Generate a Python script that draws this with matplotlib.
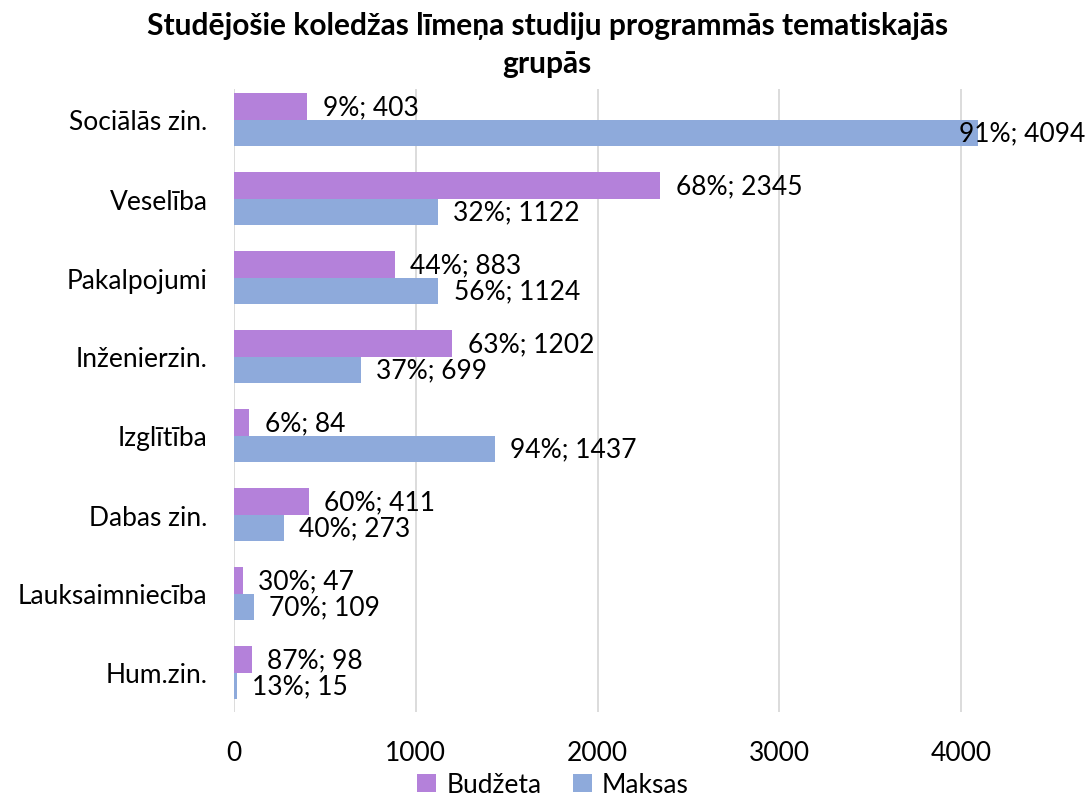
import matplotlib
matplotlib.use("Agg")
import matplotlib.pyplot as plt
import numpy as np

categories = ["Sociālās zin.", "Veselība", "Pakalpojumi", "Inženierzin.",
              "Izglītība", "Dabas zin.", "Lauksaimniecība", "Hum.zin."]
budzeta = [403, 2345, 883, 1202, 84, 411, 47, 98]
maksas = [4094, 1122, 1124, 699, 1437, 273, 109, 15]
budzeta_pct = [9, 68, 44, 63, 6, 60, 30, 87]
maksas_pct = [91, 32, 56, 37, 94, 40, 70, 13]
series_names = ["Budžeta", "Maksas"]
xticks = [0, 1000, 2000, 3000, 4000]
title = "Studējošie koledžas līmeņa studiju programmās tematiskajās\ngrupās"

c_b = "#B481DA"
c_m = "#8EAADB"

plt.rcParams['font.family'] = ['Lato', 'DejaVu Sans']

fig = plt.figure(figsize=(10.91, 8.04), dpi=100)
ax = fig.add_axes([234/1091, 1-713/804, (1052-234)/1091, (713-90)/804])

y = np.arange(len(categories))
h = 0.33
bb = ax.barh(y - h/2, budzeta, height=h, color=c_b, label=series_names[0])
bm = ax.barh(y + h/2, maksas, height=h, color=c_m, label=series_names[1])

ax.set_ylim(len(categories) - 0.5, len(categories) - 0.5 - 623/79)
ax.set_xlim(0, 4500)
ax.set_xticks(xticks)
ax.set_yticks(y)
ax.set_yticklabels(categories, fontsize=19)
ax.tick_params(axis='x', labelsize=19, length=0, pad=20)
ax.tick_params(axis='y', length=0, pad=19)
ax.grid(axis='x', color='#D9D9D9', linewidth=1.3)
ax.set_axisbelow(True)
for s in ax.spines.values():
    s.set_visible(False)

texts = []
for vals, pcts, off in ((budzeta, budzeta_pct, -h/2), (maksas, maksas_pct, h/2)):
    for i, (v, p) in enumerate(zip(vals, pcts)):
        t = ax.annotate(f"{p}%; {v}", xy=(v, i + off), xytext=(11, 0),
                        textcoords='offset points', ha='left', va='center',
                        fontsize=19, color='#000000', annotation_clip=False)
        texts.append(t)

fig.canvas.draw()
r = fig.canvas.get_renderer()
W = fig.bbox.width
for t in texts:
    ext = t.get_window_extent(r)
    if ext.x1 > W - 6:
        shift = ext.x1 - (W - 6)
        dx, dy = t.xyann
        t.xyann = (dx - shift * 72 / fig.dpi, dy)

fig.suptitle(title, x=0.5015, y=0.985, fontsize=21.5, fontweight='bold', linespacing=1.45)

leg = fig.legend(handles=[bb, bm], loc='lower center', bbox_to_anchor=(0.507, -0.016),
                 ncol=2, frameon=False, fontsize=19, handlelength=0.7, handleheight=0.7,
                 handletextpad=0.4, columnspacing=1.2, borderpad=0.2)

fig.savefig("out.png", dpi=100)
